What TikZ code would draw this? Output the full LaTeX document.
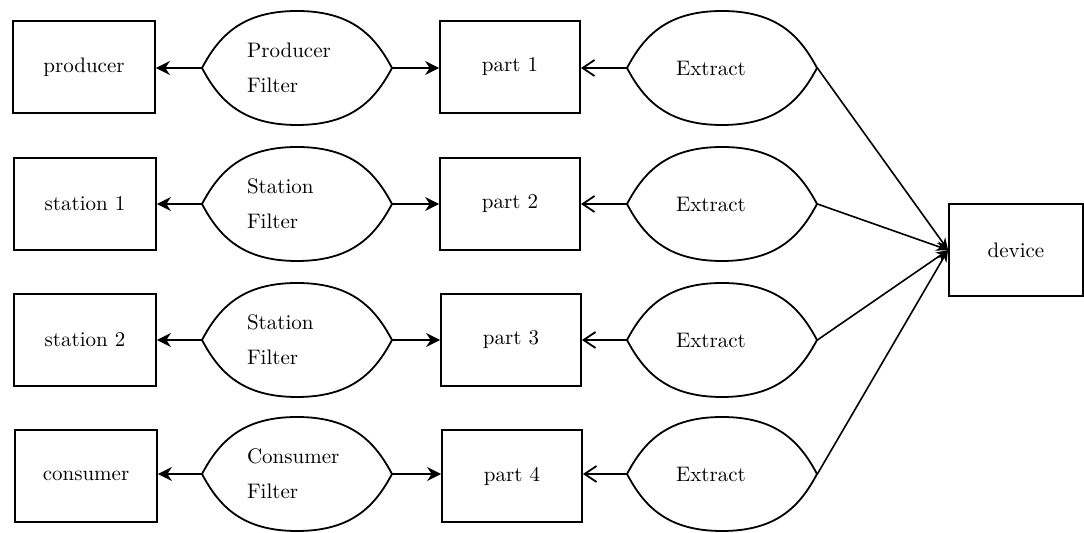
\documentclass[tikz,border=0pt]{standalone}
\usetikzlibrary{arrows.meta}
\begin{document}
\begin{tikzpicture}[x=0.5pt,y=-0.5pt,
  box/.style={draw, line width=0.9pt, minimum width=71pt, minimum height=46pt, inner sep=0pt, font=\fontsize{10.5}{12}\selectfont},
  lensnode/.style={minimum width=95pt, minimum height=57pt, inner sep=0pt, align=left, text width=50pt, font=\fontsize{10.5}{17.5}\selectfont},
  lensline/.style={line width=0.9pt},
  farrow/.style={line width=0.9pt, -{Stealth[length=7pt,width=7pt]}},
  earrow/.style={line width=0.9pt, -{Straight Barb[length=6pt,width=8pt]}},
  darrow/.style={line width=0.8pt, -{Stealth[length=6pt,width=5pt]}}]
\useasboundingbox (0,0) rectangle (1084,533);
\newcommand{\lensat}[4]{%
  \node[lensnode] (#1) at (#2,#3) {#4};
  \draw[lensline, shift={(#2,#3)}] (-95,0) .. controls (-78,-32) and (-55,-57) .. (0,-57)
     .. controls (55,-57) and (78,-32) .. (95,0)
     .. controls (78,32) and (55,57) .. (0,57)
     .. controls (-55,57) and (-78,32) .. (-95,0) -- cycle;}
% left boxes
\node[box] (producer) at (84,67) {producer};
\node[box] (station1) at (85,204) {station 1};
\node[box] (station2) at (85,340) {station 2};
\node[box] (consumer) at (86,476) {consumer};
% part boxes
\node[box, minimum width=70pt] (part1) at (510,67) {part 1};
\node[box, minimum width=70pt] (part2) at (510,204) {part 2};
\node[box, minimum width=70pt] (part3) at (511,340) {part 3};
\node[box, minimum width=70pt] (part4) at (512,476) {part 4};
% device
\node[box, minimum width=67pt] (device) at (1016,250) {device};
% filters
\lensat{f1}{297}{68}{Producer\\Filter}
\lensat{f2}{297}{204}{Station\\Filter}
\lensat{f3}{297}{340}{Station\\Filter}
\lensat{f4}{297}{474}{Consumer\\Filter}
% extracts
\lensat{e1}{722}{68}{\hspace*{2pt}Extract}
\lensat{e2}{722}{204}{\hspace*{2pt}Extract}
\lensat{e3}{722}{340}{\hspace*{2pt}Extract}
\lensat{e4}{722}{474}{\hspace*{2pt}Extract}
% arrows
\draw[farrow] (f1.west) -- (f1.west -| producer.east);
\draw[farrow] (f2.west) -- (f2.west -| station1.east);
\draw[farrow] (f3.west) -- (f3.west -| station2.east);
\draw[farrow] (f4.west) -- (f4.west -| consumer.east);
\draw[farrow] (f1.east) -- (f1.east -| part1.west);
\draw[farrow] (f2.east) -- (f2.east -| part2.west);
\draw[farrow] (f3.east) -- (f3.east -| part3.west);
\draw[farrow] (f4.east) -- (f4.east -| part4.west);
\draw[earrow] (e1.west) -- (e1.west -| part1.east);
\draw[earrow] (e2.west) -- (e2.west -| part2.east);
\draw[earrow] (e3.west) -- (e3.west -| part3.east);
\draw[earrow] (e4.west) -- (e4.west -| part4.east);
\draw[darrow] (e1.east) -- (device.west);
\draw[darrow] (e2.east) -- (device.west);
\draw[darrow] (e3.east) -- (device.west);
\draw[darrow] (e4.east) -- (device.west);
\end{tikzpicture}
\end{document}
